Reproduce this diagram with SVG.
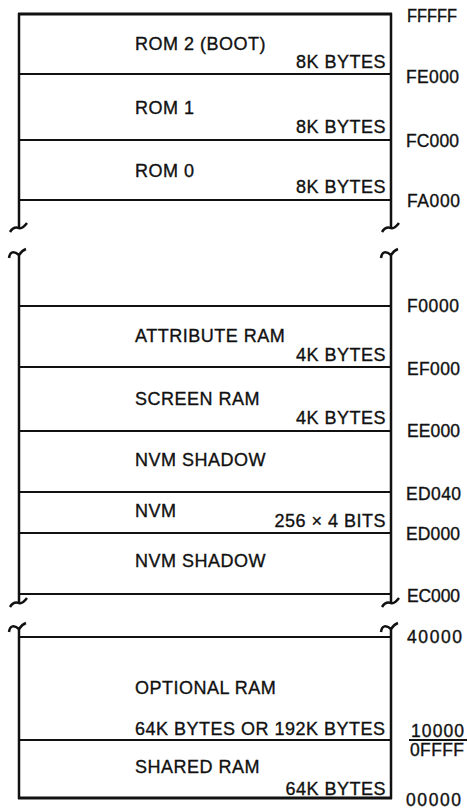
<svg xmlns="http://www.w3.org/2000/svg" width="468" height="809" viewBox="0 0 468 809">
<defs>
<style>
text{font-family:"Liberation Sans",Arial,Helvetica,sans-serif;font-size:18px;fill:#111;letter-spacing:0.5px;stroke:#111;stroke-width:0.35px}
.sz{text-anchor:end}
.ad{font-size:17.5px;letter-spacing:0}
.ln{stroke:#111;stroke-width:2;fill:none}
.lt{stroke:#111;stroke-width:3;fill:none}
.v{stroke:#111;stroke-width:2.5;fill:none;stroke-linecap:butt}
</style>
</defs>
<rect width="468" height="809" fill="#fff"/>
<g id="frame">
<line class="lt" x1="18" y1="14" x2="392" y2="14"/>
<line class="ln" x1="19" y1="74" x2="391" y2="74"/>
<line class="ln" x1="19" y1="140" x2="391" y2="140"/>
<line class="ln" x1="19" y1="200" x2="391" y2="200"/>
<line class="ln" x1="19" y1="306" x2="391" y2="306"/>
<line class="ln" x1="19" y1="367" x2="391" y2="367"/>
<line class="ln" x1="19" y1="431" x2="391" y2="431"/>
<line class="ln" x1="19" y1="492" x2="391" y2="492"/>
<line class="ln" x1="19" y1="533" x2="391" y2="533"/>
<line class="ln" x1="19" y1="594" x2="391" y2="594"/>
<line class="ln" x1="19" y1="637" x2="391" y2="637"/>
<line class="ln" x1="19" y1="740" x2="391" y2="740"/>
<line class="lt" x1="18" y1="798" x2="392" y2="798"/>
<path class="v" d="M19,13 V228 M391,13 V228"/>
<path class="v" d="M19,255 V603 M391,255 V603"/>
<path class="v" d="M19,629 V799 M391,629 V799"/>
<path class="v" d="M10,232 C13,227 16,227 19,228 C22,229 24,227 27,223"/>
<path class="v" d="M382,232 C385,227 388,227 391,228 C394,229 396,227 399,223"/>
<path class="v" d="M9,258 C10,251 14,251 19,255 C21,252 23,250 26,249"/>
<path class="v" d="M381,258 C382,251 386,251 391,255 C393,252 395,250 398,249"/>
<path class="v" d="M10,607 C13,602 16,602 19,603 C22,604 24,602 27,598"/>
<path class="v" d="M382,607 C385,602 388,602 391,603 C394,604 396,602 399,598"/>
<path class="v" d="M9,632 C10,625 14,625 19,629 C21,626 23,624 26,623"/>
<path class="v" d="M381,632 C382,625 386,625 391,629 C393,626 395,624 398,623"/>
</g>
<g id="rom2"><text x="135" y="50">ROM 2 (BOOT)</text><text class="sz" x="386" y="68">8K BYTES</text></g>
<g id="rom1"><text x="135" y="114">ROM 1</text><text class="sz" x="386" y="133">8K BYTES</text></g>
<g id="rom0"><text x="135" y="177">ROM 0</text><text class="sz" x="386" y="193">8K BYTES</text></g>
<g id="attr"><text x="135" y="342">ATTRIBUTE RAM</text><text class="sz" x="386" y="361">4K BYTES</text></g>
<g id="screen"><text x="135" y="405">SCREEN RAM</text><text class="sz" x="386" y="424">4K BYTES</text></g>
<g id="nvmshadow1"><text x="135" y="466">NVM SHADOW</text></g>
<g id="nvm"><text x="135" y="517">NVM</text><text class="sz" x="386" y="527">256 × 4 BITS</text></g>
<g id="nvmshadow2"><text x="135" y="567">NVM SHADOW</text></g>
<g id="optional"><text x="135" y="694">OPTIONAL RAM</text><text x="135" y="735">64K BYTES OR 192K BYTES</text></g>
<g id="shared"><text x="135" y="773">SHARED RAM</text><text class="sz" x="386" y="795">64K BYTES</text></g>
<g id="addresses">
<text class="ad" x="407" y="22" textLength="50" lengthAdjust="spacingAndGlyphs">FFFFF</text>
<text class="ad" x="406" y="83" textLength="53" lengthAdjust="spacing">FE000</text>
<text class="ad" x="406" y="147" textLength="53" lengthAdjust="spacing">FC000</text>
<text class="ad" x="407" y="207" textLength="53" lengthAdjust="spacing">FA000</text>
<text class="ad" x="407" y="312" textLength="52" lengthAdjust="spacing">F0000</text>
<text class="ad" x="407" y="375" textLength="53" lengthAdjust="spacing">EF000</text>
<text class="ad" x="407" y="437" textLength="53" lengthAdjust="spacing">EE000</text>
<text class="ad" x="406" y="500" textLength="55" lengthAdjust="spacing">ED040</text>
<text class="ad" x="406" y="540" textLength="54" lengthAdjust="spacing">ED000</text>
<text class="ad" x="407" y="602" textLength="53" lengthAdjust="spacing">EC000</text>
<text class="ad" x="407" y="643" textLength="55" lengthAdjust="spacing">40000</text>
<text class="ad" x="411" y="737" textLength="53" lengthAdjust="spacing">10000</text>
<line class="ln" x1="409" y1="740" x2="467" y2="740"/>
<text class="ad" x="410" y="756" textLength="54" lengthAdjust="spacing">0FFFF</text>
<text class="ad" x="406" y="806" textLength="55" lengthAdjust="spacing">00000</text>
</g>
</svg>
